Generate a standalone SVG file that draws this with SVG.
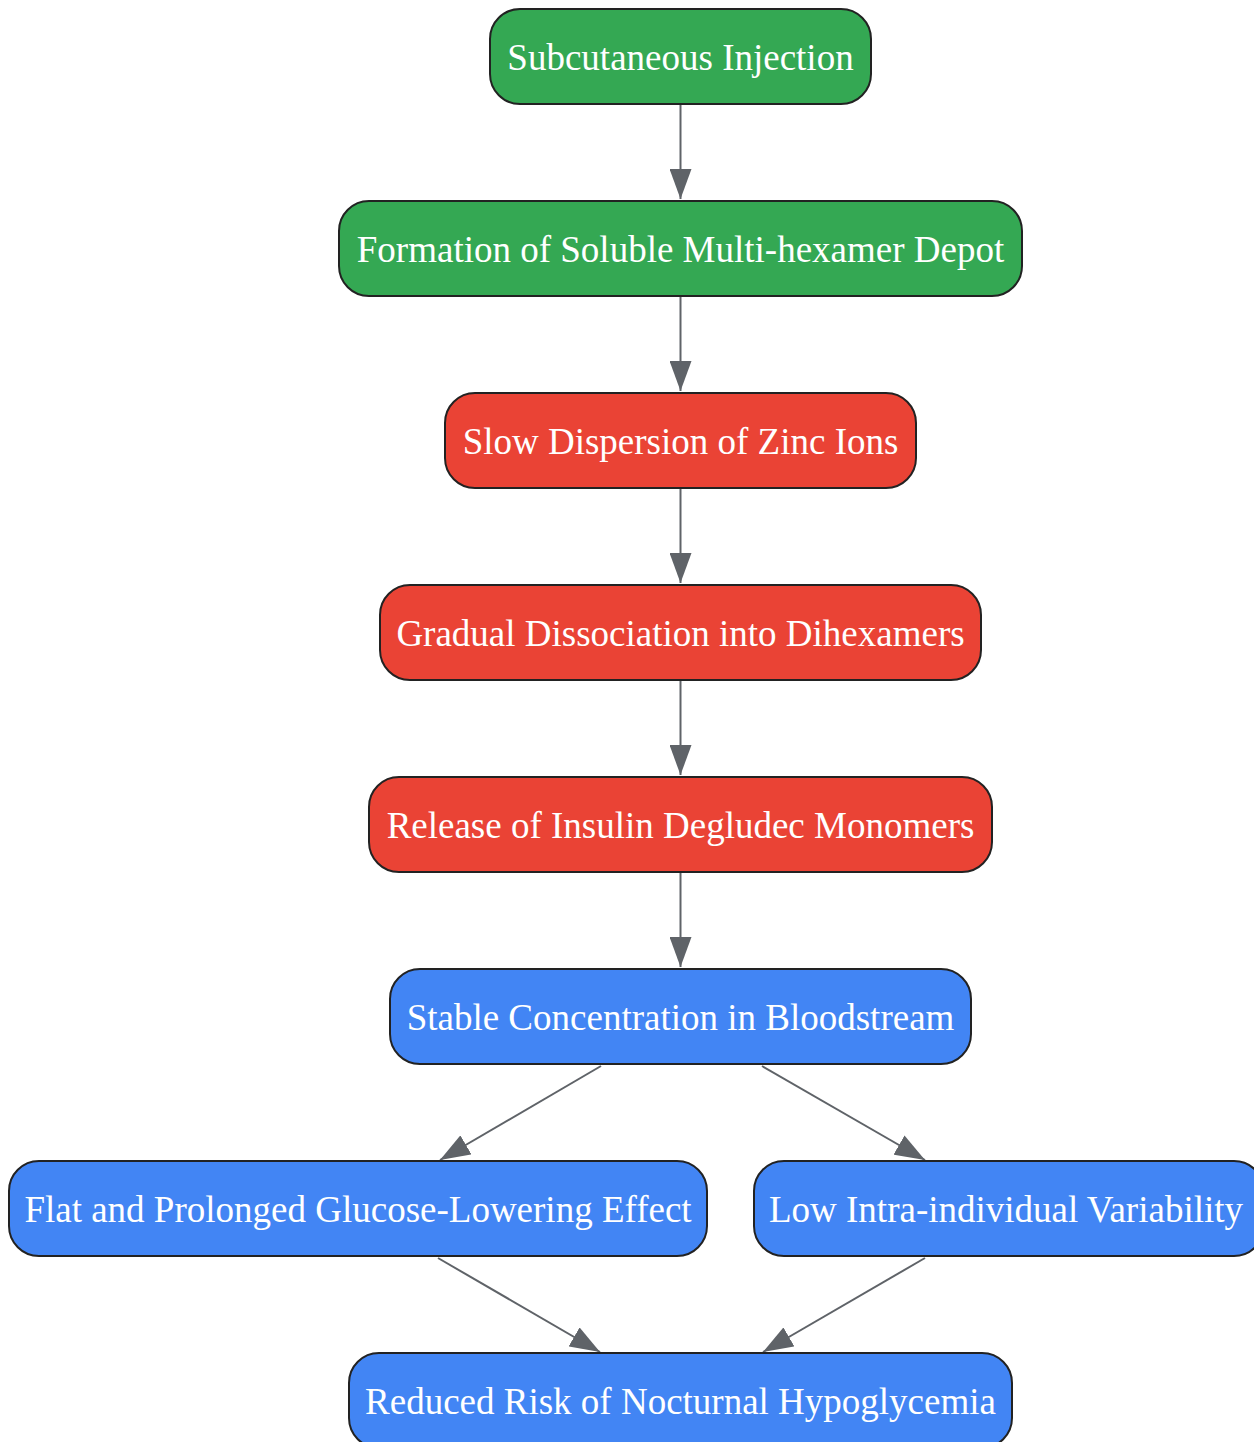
<svg xmlns="http://www.w3.org/2000/svg" width="1254" height="1442" viewBox="0 0 1254 1442">
<style>
.n rect{stroke:#222222;stroke-width:2}
.g rect{fill:#34A853}
.r rect{fill:#EA4335}
.b rect{fill:#4285F4}
.n text{font-family:"Liberation Serif","Times New Roman",serif;font-size:37px;fill:#ffffff;text-anchor:middle}
.e{stroke:#5f6368;stroke-width:2;fill:none;marker-end:url(#ah)}
</style>
<defs>
<marker id="ah" markerUnits="userSpaceOnUse" markerWidth="30" markerHeight="22" refX="30" refY="11" orient="auto" viewBox="0 0 30 22">
<path d="M0,0 L30,11 L0,22 Z" fill="#5f6368"/>
</marker>
</defs>
<rect width="1254" height="1442" fill="#ffffff"/>
<g id="edges">
<line class="e" x1="680.5" y1="104" x2="680.5" y2="199"/>
<line class="e" x1="680.5" y1="296" x2="680.5" y2="391"/>
<line class="e" x1="680.5" y1="488" x2="680.5" y2="583"/>
<line class="e" x1="680.5" y1="680" x2="680.5" y2="775"/>
<line class="e" x1="680.5" y1="872" x2="680.5" y2="967"/>
<line class="e" x1="601" y1="1066" x2="440" y2="1160"/>
<line class="e" x1="762" y1="1066" x2="925" y2="1160"/>
<line class="e" x1="438" y1="1258" x2="600" y2="1352"/>
<line class="e" x1="925" y1="1258" x2="763" y2="1352"/>
</g>
<g id="n1" class="n g"><rect x="490" y="9" width="381" height="95" rx="30"/><text x="680.5" y="70">Subcutaneous Injection</text></g>
<g id="n2" class="n g"><rect x="339" y="201" width="683" height="95" rx="30"/><text x="680.5" y="262">Formation of Soluble Multi-hexamer Depot</text></g>
<g id="n3" class="n r"><rect x="445" y="393" width="471" height="95" rx="30"/><text x="680.5" y="454">Slow Dispersion of Zinc Ions</text></g>
<g id="n4" class="n r"><rect x="380" y="585" width="601" height="95" rx="30"/><text x="680.5" y="646">Gradual Dissociation into Dihexamers</text></g>
<g id="n5" class="n r"><rect x="369" y="777" width="623" height="95" rx="30"/><text x="680.5" y="838">Release of Insulin Degludec Monomers</text></g>
<g id="n6" class="n b"><rect x="390" y="969" width="581" height="95" rx="30"/><text x="680.5" y="1030">Stable Concentration in Bloodstream</text></g>
<g id="n7" class="n b"><rect x="9" y="1161" width="698" height="95" rx="30"/><text x="358" y="1222">Flat and Prolonged Glucose-Lowering Effect</text></g>
<g id="n8" class="n b"><rect x="754" y="1161" width="510" height="95" rx="30"/><text x="1006" y="1222">Low Intra-individual Variability</text></g>
<g id="n9" class="n b"><rect x="349" y="1353" width="663" height="95" rx="30"/><text x="680.5" y="1414">Reduced Risk of Nocturnal Hypoglycemia</text></g>
</svg>
